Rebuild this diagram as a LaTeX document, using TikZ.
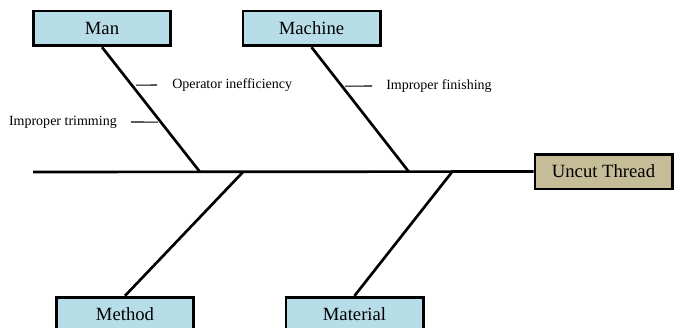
\documentclass[tikz,border=0pt]{standalone}
\usepackage{fontspec}
\setmainfont{Liberation Serif}
\usetikzlibrary{calc}
\definecolor{boxblue}{RGB}{183,222,232}
\definecolor{boxtan}{RGB}{196,189,151}

\begin{document}
\begin{tikzpicture}[x=0.75pt, y=-0.75pt]
 \tikzstyle{cause}=[rectangle, draw, fill=boxblue, line width=2pt, minimum width=103pt, minimum height=26pt, inner sep=0pt, font=\fontsize{14}{16}\selectfont]
 \tikzstyle{effect}=[cause, fill=boxtan]
 \tikzstyle{bone}=[line width=2pt]
 \tikzstyle{twig}=[line width=0.8pt]
 \tikzstyle{sub}=[inner sep=0pt, font=\fontsize{10.5}{12}\selectfont]
 \useasboundingbox (0,0) rectangle (674,328);
 %
 \node[cause] (Man) at (102, 28.5) {Man};
 \node[cause] (Mach) at (311.5, 28.5) {Machine};
 \node[effect] (Uncut) at (603.5, 171.5) {Uncut Thread};
 \node[cause] (Meth) at (125, 314.5) {Method};
 \node[cause] (Mat) at (354.5, 314.5) {Material};
 %
 \coordinate (S0) at (33, 172);
 \coordinate (jMan) at (200, 172);
 \coordinate (jMeth) at (243, 172);
 \coordinate (jMach) at (409, 172);
 \coordinate (jMat) at (452, 172);
 %%
 \draw[bone] (S0)--(Uncut.west);
 \draw[bone] (Man.south)--(jMan);
 \draw[bone] (Mach.south)--(jMach);
 \draw[bone] (jMeth)--(Meth.north);
 \draw[bone] (jMat)--(Mat.north);
 %
 \coordinate (tOp) at ($(Man.south)!0.304!(jMan)$);
 \coordinate (tTrim) at ($(Man.south)!0.6!(jMan)$);
 \coordinate (tFin) at ($(Mach.south)!0.312!(jMach)$);
 \node[sub, anchor=west] (Op) at (172, 85) {Operator inefficiency};
 \node[sub, anchor=east] (Trim) at (117, 122) {Improper trimming};
 \node[sub, anchor=west] (Fin) at (386, 86) {Improper finishing};
 \draw[twig] ($(tOp)+(4,0)$)--(157, 85);
 \draw[twig] (131, 122)--($(tTrim)+(-3,0)$);
 \draw[twig] ($(tFin)+(3,0)$)--(372, 86);
\end{tikzpicture}
\end{document}
